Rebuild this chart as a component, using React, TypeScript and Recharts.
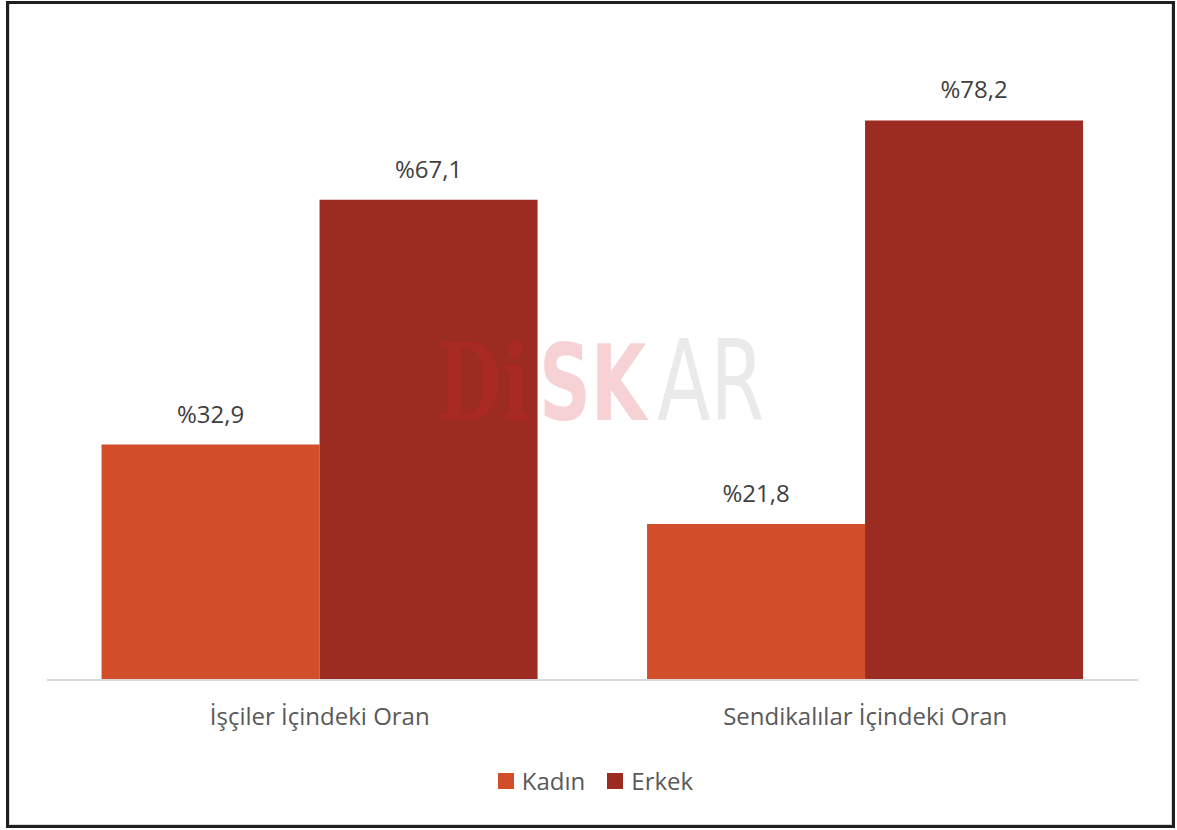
import React from "react";
import { BarChart, Bar, XAxis, YAxis, LabelList } from "recharts";

const categories = ["İşçiler İçindeki Oran", "Sendikalılar İçindeki Oran"];
const seriesNames = ["Kadın", "Erkek"];
const kadinValues = [32.9, 21.8];
const erkekValues = [67.1, 78.2];
const seriesColors = ["#D24E2A", "#9C2B21"];

const data = categories.map((name, i) => ({
  name,
  kadin: kadinValues[i],
  erkek: erkekValues[i],
}));

const fmt = (v: number) => "%" + Number(v).toFixed(1).replace(".", ",");

// yarı saydam logo filigranı
function Watermark() {
  return (
    <svg
      width={1177}
      height={830}
      style={{ position: "absolute", left: 0, top: 0, pointerEvents: "none" }}
    >
      <g transform="translate(0,420) scale(1,1.45)">
        <text
          x={437}
          y={0}
          fontSize={74}
          fontWeight={700}
          fontFamily="'DejaVu Serif', serif"
          fill="#e8202a"
          fillOpacity={0.18}
        >
          Di
        </text>
        <text
          x={539}
          y={0}
          fontSize={72}
          fontWeight={700}
          fontFamily="'DejaVu Sans', sans-serif"
          fill="#d0202a"
          fillOpacity={0.2}
        >
          SK
        </text>
        <text
          x={657}
          y={0}
          fontSize={78}
          fontFamily="'DejaVu Sans', sans-serif"
          fill="#8c8c8c"
          fillOpacity={0.18}
        >
          AR
        </text>
      </g>
    </svg>
  );
}

export default function App() {
  return (
    <div
      style={{
        position: "absolute",
        left: 0,
        top: 0,
        width: 1177,
        height: 830,
        background: "#fff",
        fontFamily: "'Open Sans', sans-serif",
      }}
    >
      <BarChart
        width={1177}
        height={830}
        data={data}
        margin={{ top: 36, right: 39, bottom: 120, left: 47 }}
        barGap={0}
        barCategoryGap="10%"
      >
        <XAxis
          dataKey="name"
          axisLine={{ stroke: "#d9d9d9", strokeWidth: 2 }}
          tickLine={false}
          tickSize={0}
          tickMargin={28}
          tick={{ fontSize: 24, fill: "#595959" }}
        />
        <YAxis hide domain={[0, 90]} />
        <Bar dataKey="kadin" name={seriesNames[0]} fill={seriesColors[0]} isAnimationActive={false}>
          <LabelList
            dataKey="kadin"
            position="top"
            offset={22}
            formatter={(v: any) => fmt(v)}
            fill="#404040"
            fontSize={24}
          />
        </Bar>
        <Bar dataKey="erkek" name={seriesNames[1]} fill={seriesColors[1]} isAnimationActive={false}>
          <LabelList
            dataKey="erkek"
            position="top"
            offset={22}
            formatter={(v: any) => fmt(v)}
            fill="#404040"
            fontSize={24}
          />
        </Bar>
      </BarChart>

      <Watermark />

      {/* lejant */}
      <div
        style={{
          position: "absolute",
          left: 7,
          top: 764,
          width: 1177,
          display: "flex",
          justifyContent: "center",
          gap: 22,
          fontSize: 24,
          color: "#595959",
        }}
      >
        {seriesNames.map((s, i) => (
          <div key={s} style={{ display: "flex", alignItems: "center", gap: 8 }}>
            <span style={{ width: 16, height: 16, background: seriesColors[i], display: "inline-block" }} />
            <span>{s}</span>
          </div>
        ))}
      </div>

      {/* çerçeve */}
      <div
        style={{
          position: "absolute",
          left: 6,
          top: 1,
          width: 1169,
          height: 827,
          boxSizing: "border-box",
          border: "3px solid #1f1f1f",
          boxShadow: "inset 1px 0 0 #d9d9d9, inset -1px -1px 0 #d9d9d9",
          pointerEvents: "none",
        }}
      />
    </div>
  );
}
